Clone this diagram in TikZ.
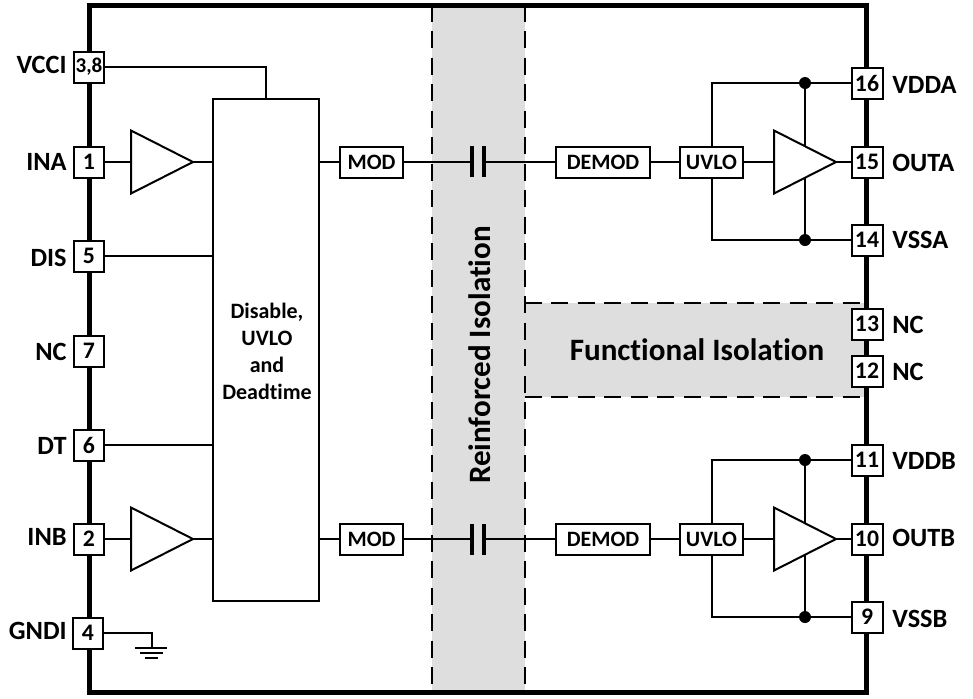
\documentclass[tikz,border=0pt]{standalone}
\usepackage{fontspec}
\setmainfont{Carlito}[RawFeature={-liga}]
\usetikzlibrary{shapes.geometric}

\definecolor{isogray}{HTML}{DEDEDE}

\tikzset{
    wire/.style = {line width = .04cm},
    pinbox/.style = {rectangle, draw, fill = white, line width = .04cm, minimum size = .62cm, inner sep = 0pt, font = \fontsize{13.5}{15}\bfseries},
    pinname/.style = {inner sep = 0pt, font = \fontsize{15}{18}\bfseries},
    blockbox/.style = {rectangle, draw, fill = white, line width = .04cm, minimum height = .62cm, inner sep = 0pt, font = \fontsize{12.5}{15}\bfseries},
    buffer/.style = {isosceles triangle, isosceles triangle stretches, draw, fill = white, line width = .04cm, minimum width = 1.26cm, minimum height = 1.24cm, inner sep = 0pt, outer sep = 0pt, anchor = apex},
    isoband/.style = {rectangle, fill = isogray, inner sep = 0pt},
    isoline/.style = {line width = .04cm, dash pattern = on .34cm off .19cm},
    isotext/.style = {inner sep = 0pt, font = \fontsize{17.7}{21}\bfseries},
    dot/.style = {circle, fill = black, minimum size = .24cm, inner sep = 0pt}
}

\begin{document}
\begin{tikzpicture}[x = .02cm, y = -.02cm]
    \useasboundingbox (0, 0) rectangle (973, 698);

    % isolation areas
    \node[isoband, minimum width = 1.86cm, minimum height = 13.76cm] (riso) at (478.5, 349) {};
    \node[isoband, minimum width = 6.84cm, minimum height = 1.88cm] (fiso) at (696, 350) {};
    \draw[isoline] (riso.north west) -- (riso.south west);
    \draw[isoline] (riso.north east) -- (riso.south east);
    \draw[isoline] (fiso.north west) -- (fiso.north east);
    \draw[isoline] (fiso.south west) -- (fiso.south east);
    \node[isotext, rotate = 90] (risotext) at (480, 355) {Reinforced Isolation};
    \node[isotext] (fisotext) at (697, 350) {Functional Isolation};

    % package outline
    \node[rectangle, draw, line width = .1cm, minimum width = 15.56cm, minimum height = 13.76cm, inner sep = 0pt] (chip) at (478, 349) {};

    % input side pins
    \node[pinbox, font = \fontsize{12}{14}\bfseries] (p38) at (89, 67) {3,8};
    \node[pinbox] (p1) at (89, 162) {1};
    \node[pinbox] (p5) at (89, 256) {5};
    \node[pinbox] (p7) at (89, 351) {7};
    \node[pinbox] (p6) at (89, 445) {6};
    \node[pinbox] (p2) at (89, 539) {2};
    \node[pinbox] (p4) at (88, 633) {4};
    \node[pinname, anchor = east] (vcci) at (67, 65) {VCCI};
    \node[pinname, anchor = east] (ina) at (67, 162) {INA};
    \node[pinname, anchor = east] (dis) at (67, 258) {DIS};
    \node[pinname, anchor = east] (nc7) at (67, 352) {NC};
    \node[pinname, anchor = east] (dt) at (67, 446) {DT};
    \node[pinname, anchor = east] (inb) at (67, 537) {INB};
    \node[pinname, anchor = east] (gndi) at (67, 631) {GNDI};

    % output side pins
    \node[pinbox] (p16) at (867, 83) {16};
    \node[pinbox] (p15) at (867, 162) {15};
    \node[pinbox] (p14) at (867, 240) {14};
    \node[pinbox] (p13) at (867, 324) {13};
    \node[pinbox] (p12) at (867, 371) {12};
    \node[pinbox] (p11) at (867, 460) {11};
    \node[pinbox] (p10) at (867, 539) {10};
    \node[pinbox] (p9) at (867, 617) {9};
    \node[pinname, anchor = west] (vdda) at (892, 85) {VDDA};
    \node[pinname, anchor = west] (outa) at (892, 163) {OUTA};
    \node[pinname, anchor = west] (vssa) at (892, 240) {VSSA};
    \node[pinname, anchor = west] (nc13) at (892, 325) {NC};
    \node[pinname, anchor = west] (nc12) at (892, 372) {NC};
    \node[pinname, anchor = west] (vddb) at (892, 461) {VDDB};
    \node[pinname, anchor = west] (outb) at (892, 538) {OUTB};
    \node[pinname, anchor = west] (vssb) at (892, 619) {VSSB};

    % logic block
    \node[rectangle, draw, line width = .04cm, minimum width = 2.12cm, minimum height = 10.04cm, inner sep = 0pt] (logic) at (266, 350) {};
    \node[inner sep = 0pt, align = center, font = \fontsize{12.5}{15.4}\bfseries] (logictext) at (267, 351) {Disable,\\UVLO\\and\\Deadtime};

    % modulators and UVLO
    \node[blockbox, minimum width = 1.26cm] (moda) at (371.5, 162) {MOD};
    \node[blockbox, minimum width = 1.88cm] (demoda) at (603, 162) {DEMOD};
    \node[blockbox, minimum width = 1.26cm] (uvloa) at (711.5, 162) {UVLO};
    \node[blockbox, minimum width = 1.26cm] (modb) at (371.5, 539) {MOD};
    \node[blockbox, minimum width = 1.88cm] (demodb) at (603, 539) {DEMOD};
    \node[blockbox, minimum width = 1.26cm] (uvlob) at (711.5, 539) {UVLO};

    % coupling capacitors
    \coordinate (capa1t) at (472, 146);
    \coordinate (capa1b) at (472, 177);
    \coordinate (capa2t) at (484, 146);
    \coordinate (capa2b) at (484, 177);
    \coordinate (capb1t) at (472, 524);
    \coordinate (capb1b) at (472, 555);
    \coordinate (capb2t) at (484, 524);
    \coordinate (capb2b) at (484, 555);
    \coordinate (capa1) at (472, 162);
    \coordinate (capa2) at (484, 162);
    \coordinate (capb1) at (472, 539);
    \coordinate (capb2) at (484, 539);
    \draw[line width = .07cm] (capa1t) -- (capa1b);
    \draw[line width = .07cm] (capa2t) -- (capa2b);
    \draw[line width = .07cm] (capb1t) -- (capb1b);
    \draw[line width = .07cm] (capb2t) -- (capb2b);

    % supply rails, the output buffers sit on top of them
    \node[dot] (dota1) at (805, 83) {};
    \node[dot] (dota2) at (805, 240) {};
    \node[dot] (dotb1) at (805, 460) {};
    \node[dot] (dotb2) at (805, 617) {};
    \draw[wire] (dota1) -- (dota2);
    \draw[wire] (dotb1) -- (dotb2);
    \draw[wire] (p16) -- (dota1);
    \draw[wire] (p14) -- (dota2);
    \draw[wire] (p11) -- (dotb1);
    \draw[wire] (p9) -- (dotb2);
    \draw[wire] (dota1) -| (uvloa);
    \draw[wire] (dota2) -| (uvloa);
    \draw[wire] (dotb1) -| (uvlob);
    \draw[wire] (dotb2) -| (uvlob);

    % buffers
    \node[buffer] (bufina) at (193, 162) {};
    \node[buffer] (bufinb) at (193, 539) {};
    \node[buffer] (bufouta) at (836, 162) {};
    \node[buffer] (bufoutb) at (836, 539) {};

    % input side wires
    \draw[wire] (p38) -| (logic.north);
    \draw[wire] (p1) -- (bufina.west);
    \draw[wire] (bufina.apex) -- (bufina.apex -| logic.west);
    \draw[wire] (p5) -- (p5 -| logic.west);
    \draw[wire] (p6) -- (p6 -| logic.west);
    \draw[wire] (p2) -- (bufinb.west);
    \draw[wire] (bufinb.apex) -- (bufinb.apex -| logic.west);

    % signal path
    \draw[wire] (moda -| logic.east) -- (moda);
    \draw[wire] (moda) -- (capa1);
    \draw[wire] (capa2) -- (demoda);
    \draw[wire] (demoda) -- (uvloa);
    \draw[wire] (uvloa) -- (bufouta.west);
    \draw[wire] (bufouta.apex) -- (p15);
    \draw[wire] (modb -| logic.east) -- (modb);
    \draw[wire] (modb) -- (capb1);
    \draw[wire] (capb2) -- (demodb);
    \draw[wire] (demodb) -- (uvlob);
    \draw[wire] (uvlob) -- (bufoutb.west);
    \draw[wire] (bufoutb.apex) -- (p10);

    % ground
    \coordinate (gnd) at (152, 648);
    \coordinate (gnd1l) at (135, 648);
    \coordinate (gnd1r) at (167, 648);
    \coordinate (gnd2l) at (140, 653);
    \coordinate (gnd2r) at (163, 653);
    \coordinate (gnd3l) at (145, 658);
    \coordinate (gnd3r) at (158, 658);
    \draw[wire] (p4) -| (gnd);
    \draw[wire] (gnd1l) -- (gnd1r);
    \draw[wire] (gnd2l) -- (gnd2r);
    \draw[wire] (gnd3l) -- (gnd3r);
\end{tikzpicture}
\end{document}
